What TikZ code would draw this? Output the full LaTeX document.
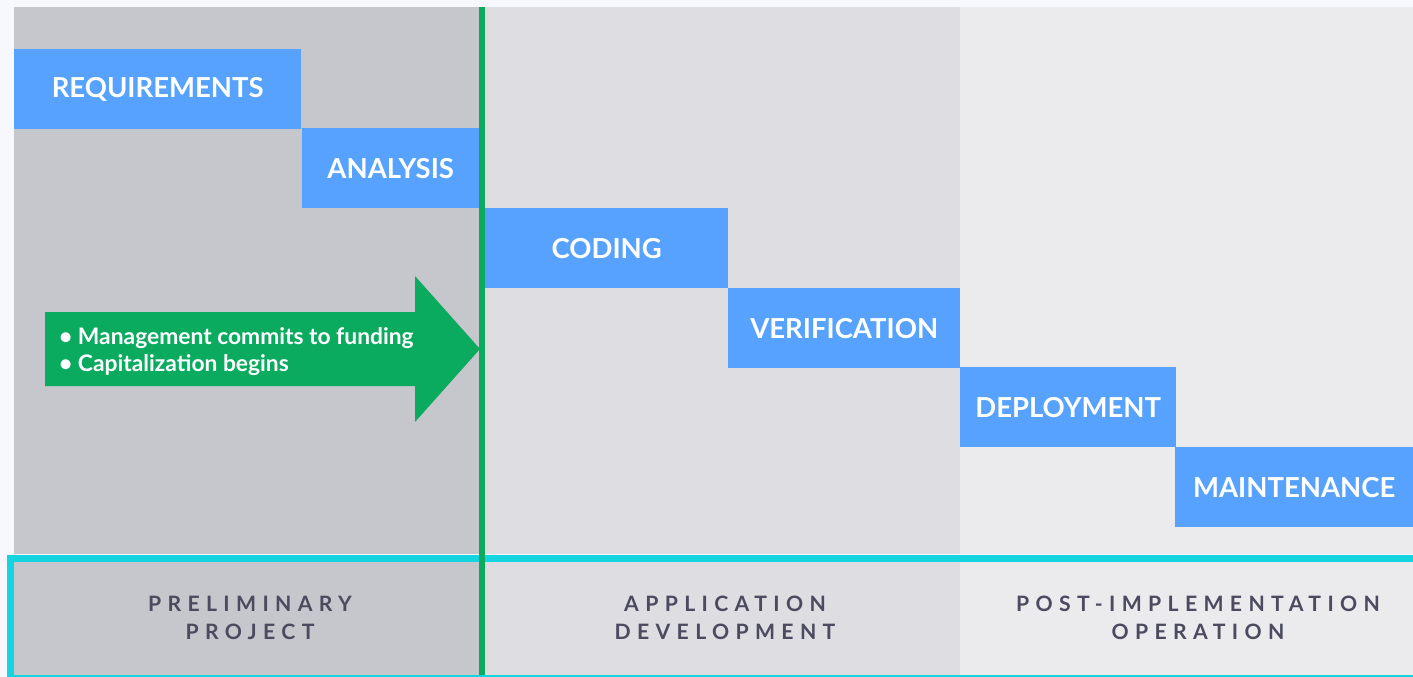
\documentclass[tikz,border=0pt]{standalone}
\usepackage{fontspec}
\setmainfont{Lato}
\newfontfamily\stagefont[LetterSpace=30]{Lato}
\definecolor{pagebg}{HTML}{F6F8FD}
\definecolor{panelA}{HTML}{C6C7CC}
\definecolor{panelB}{HTML}{DDDDE2}
\definecolor{panelC}{HTML}{EBEBEE}
\definecolor{phaseblue}{HTML}{56A2FE}
\definecolor{gatewaygreen}{HTML}{0AAA5F}
\definecolor{bandcyan}{HTML}{14D4E0}
\definecolor{stagetext}{HTML}{4B4A5F}
\begin{document}
\begin{tikzpicture}[x=1pt,y=-1pt,
  phase/.style={fill=phaseblue, text=white, font=\bfseries\fontsize{27.5}{32}\selectfont,
    inner sep=0pt, minimum height=80pt, anchor=north west},
  stage/.style={text=stagetext, align=center,
    font=\stagefont\bfseries\fontsize{21.2}{28}\selectfont},
  gatenote/.style={text=white, align=left, anchor=west, inner sep=0pt,
    font=\bfseries\fontsize{22.8}{27}\selectfont}]
  % page and phase columns
  \fill[pagebg] (0,0) rectangle (1413,677);
  \useasboundingbox (0,0) rectangle (1413,677);
  \fill[panelA] (14,7) rectangle (480,554);
  \fill[panelB] (480,7) rectangle (960,554);
  \fill[panelC] (960,7) rectangle (1413,554);
  \fill[panelA] (14,558) rectangle (480,677);
  \fill[panelB] (480,558) rectangle (960,677);
  \fill[panelC] (960,558) rectangle (1413,677);
  % stage band outline
  \draw[bandcyan, line width=7pt] (10.5,558.5) rectangle (1425,678.5);
  % waterfall steps
  \node[phase, minimum width=287pt] (req) at (14,49) {REQUIREMENTS};
  \node[phase, minimum width=177pt] (ana) at (302,128) {ANALYSIS};
  \node[phase, minimum width=243pt] (cod) at (485,208) {CODING};
  \node[phase, minimum width=232pt] (ver) at (728,288) {VERIFICATION};
  \node[phase, minimum width=216pt] (dep) at (960,367) {DEPLOYMENT};
  \node[phase, minimum width=238pt] (mai) at (1175,447) {MAINTENANCE};
  % funding gateway arrow
  \fill[gatewaygreen] (45,312) -- (415,312) -- (415,276) -- (480,349)
    -- (415,422) -- (415,386) -- (45,386) -- cycle;
  \node[gatenote] (fund) at (59,352)
    {\textbullet\ Management commits to funding\\\textbullet\ Capitalization begins};
  % gateway line
  \draw[gatewaygreen, line width=6pt] (482,7) -- (482,675);
  % stage labels
  \node[stage] (pre) at (250,618) {PRELIMINARY\\PROJECT};
  \node[stage] (app) at (725,618) {APPLICATION\\DEVELOPMENT};
  \node[stage] (post) at (1198,618) {POST-IMPLEMENTATION\\OPERATION};
\end{tikzpicture}
\end{document}
